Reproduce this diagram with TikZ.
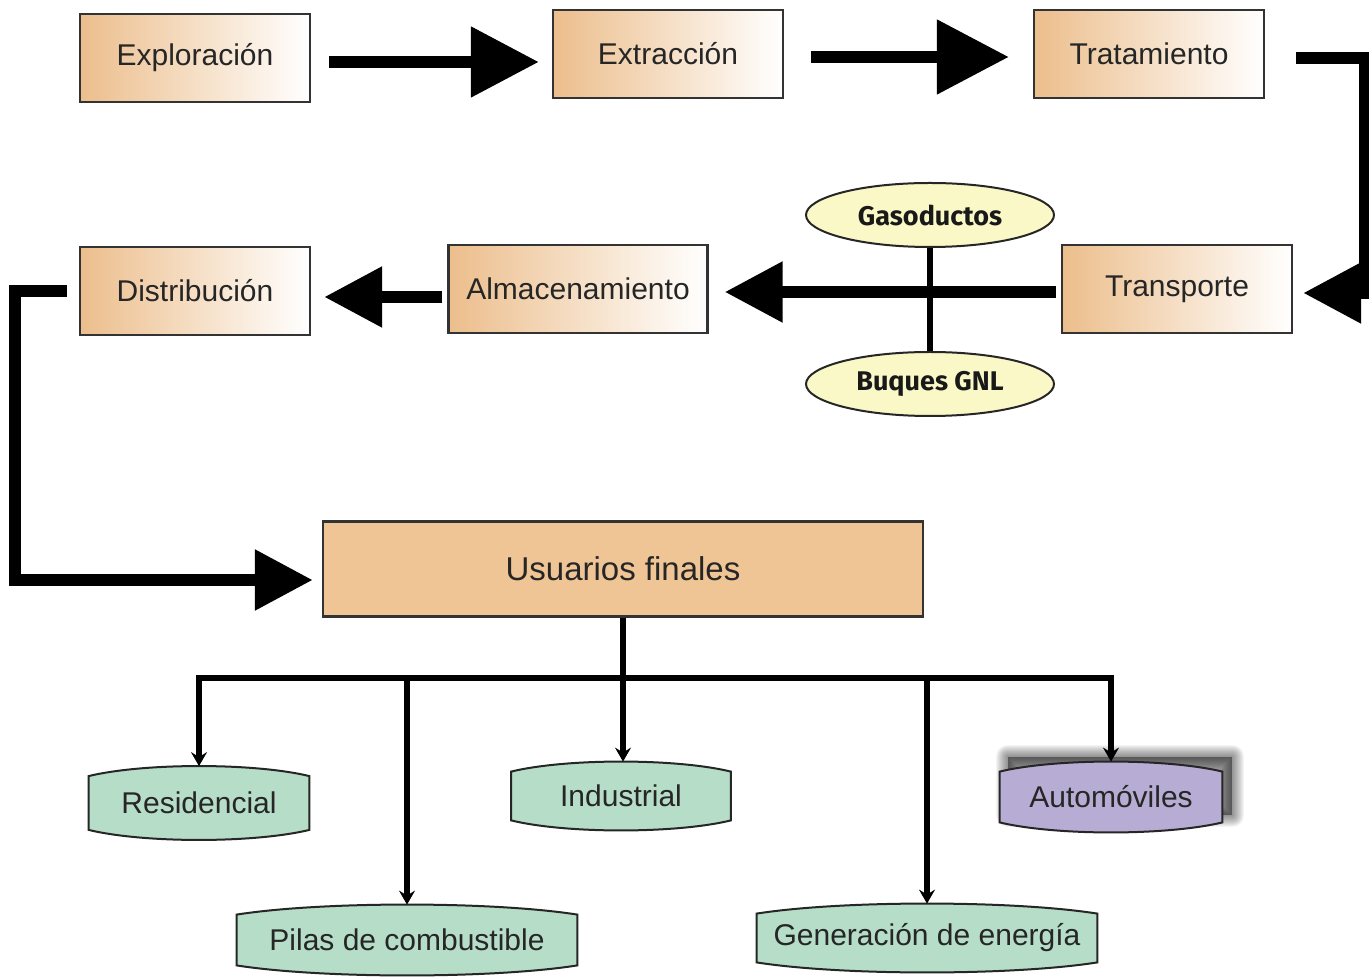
\documentclass[tikz,border=0pt]{standalone}
\usepackage{fontspec}
\setmainfont{Liberation Sans}
\newfontfamily\routefont{Fira Sans}
\usetikzlibrary{arrows.meta,shapes.geometric,backgrounds,calc}
\pgfdeclarelayer{backshadow}
\pgfsetlayers{backshadow,background,main}
\definecolor{stageorange}{RGB}{236,190,140}
\definecolor{userorange}{RGB}{240,197,150}
\definecolor{leafgreen}{RGB}{181,221,200}
\definecolor{leafviolet}{RGB}{183,172,212}
\definecolor{routeyellow}{RGB}{250,248,198}
\tikzstyle{stage}=[draw=black!80,line width=1.2pt,left color=stageorange,right color=white,minimum height=44pt,inner sep=0pt,text=black!85,font=\fontsize{15}{15}\selectfont]
\tikzstyle{users}=[draw=black!80,line width=1.2pt,fill=userorange,minimum width=300pt,minimum height=47.5pt,text=black!85,font=\fontsize{16.5}{16.5}\selectfont]
\tikzstyle{route}=[ellipse,draw=black!85,line width=1pt,fill=routeyellow,minimum width=124pt,minimum height=32pt,inner sep=0pt,text=black!90,font=\routefont\bfseries\fontsize{13.5}{13.5}\selectfont]
\tikzstyle{leaf}=[inner sep=0pt,text=black!85,font=\fontsize{15}{15}\selectfont]
\tikzstyle{barrel}=[draw=black!85,line width=1pt]
\tikzstyle{leafarrow}=[line width=2.6pt,>={Stealth[length=7pt,width=8pt,inset=2.5pt]},->]
\tikzset{bigarrow/.style={line width=6pt,-{Triangle[length=#1,width=#1]}},bigarrow/.default=29pt}

\begin{document}
\begin{tikzpicture}[x=0.5pt,y=-0.5pt]
  \useasboundingbox (0,0) rectangle (1369,977);
  \foreach \name/\x/\y/\w/\text in {B-1/195/58/115/Exploración, B-2/668/54/115/Extracción,
                                    B-3/1149/54/115/Tratamiento, B-4/1177/289/115/Transporte,
                                    B-5/578/289/129.5/Almacenamiento, B-6/195/291/115/Distribución}
    \node[stage,minimum width=\w pt] (\name) at (\x,\y) {\text};
  \node[users] (U) at (623,569) {Usuarios finales};
  \node[route] (R-1) at (930,215) {Gasoductos};
  \node[route] (R-2) at (930,384) {Buques GNL};
  \foreach \name/\x/\y/\w/\h/\col/\text in {L-1/199/803/110/36.5/leafgreen/Residencial,
                                            L-2/407/940/170/35/leafgreen/Pilas de combustible,
                                            L-3/621/796/109.5/34/leafgreen/Industrial,
                                            L-4/927/938/170/34/leafgreen/Generación de energía,
                                            L-5/1111/797/111/35/leafviolet/Automóviles}
  {
    \node[leaf,minimum width=\w pt,minimum height=\h pt] (\name) at (\x,\y) {\text};
    \begin{pgfonlayer}{background}
      \draw[barrel,fill=\col] ([yshift=-5pt]\name.north west)
        .. controls ([yshift=1.7pt]$(\name.north west)!.25!(\name.north east)$) and ([yshift=1.7pt]$(\name.north west)!.75!(\name.north east)$) .. ([yshift=-5pt]\name.north east)
        -- ([yshift=5pt]\name.south east)
        .. controls ([yshift=-1.7pt]$(\name.south west)!.75!(\name.south east)$) and ([yshift=-1.7pt]$(\name.south west)!.25!(\name.south east)$) .. ([yshift=5pt]\name.south west)
        -- cycle;
    \end{pgfonlayer}
  }
  \begin{pgfonlayer}{backshadow}
    \foreach \i in {1,...,12}
      \fill[black,draw=black,opacity=.045,line width=\i pt,line join=round]
        ([xshift=4pt,yshift=2.5pt]L-5.north west) rectangle ([xshift=5pt,yshift=8.5pt]L-5.south east);
  \end{pgfonlayer}

  \draw[bigarrow=34pt,shorten <=9pt,shorten >=6.5pt] ([yshift=-2pt]B-1.east) -- ([yshift=-2pt]B-1.east -| B-2.west);
  \draw[bigarrow=36pt,shorten <=13.5pt,shorten >=12pt] ([yshift=-1.5pt]B-2.east) -- ([yshift=-1.5pt]B-2.east -| B-3.west);
  \draw[bigarrow,shorten <=15.5pt] ([yshift=-2pt]B-3.east) -| ([xshift=36pt,yshift=-2pt]B-4.east) -- ([xshift=5pt,yshift=-2pt]B-4.east);
  \draw[bigarrow,shorten <=2.5pt,shorten >=8pt] ([yshift=-1.5pt]B-4.west) -- ([yshift=-1.5pt]B-4.west -| B-5.east);
  \draw[bigarrow,shorten <=2.5pt,shorten >=6.5pt] ([yshift=-4pt]B-5.west) -- ([yshift=-4pt]B-5.west -| B-6.east);
  \draw[bigarrow,shorten >=4.5pt] ([xshift=-6pt]B-6.west) -- ++(-52,0) |- ([yshift=-5.5pt]U.west);
  \draw[line width=3pt] (R-1.south) -- (R-2.north);

  \coordinate (bar) at (623,678);
  \draw[leafarrow] (U.south) -- (U.south |- L-3.north);
  \draw[leafarrow,<->] (L-1.north) |- (bar) -| (L-5.north);
  \foreach \n in {L-2,L-4}
    \draw[leafarrow,line width=3.4pt] (\n.north |- bar) -- (\n.north);
\end{tikzpicture}
\end{document}
